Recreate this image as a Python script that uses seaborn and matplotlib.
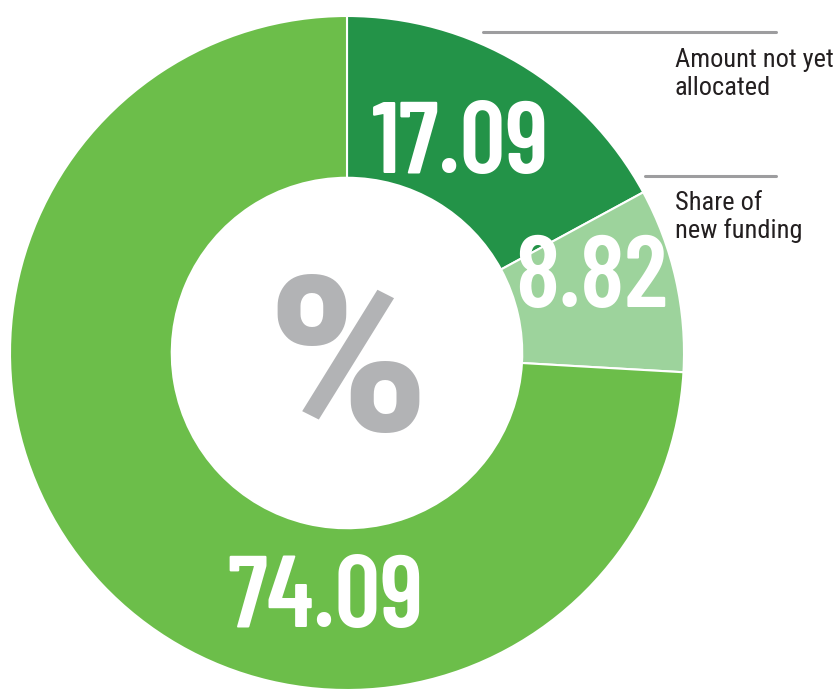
import numpy as np
import pandas as pd
import matplotlib
matplotlib.use('Agg')
import matplotlib.pyplot as plt
import seaborn as sns
from matplotlib import font_manager

sns.set_style("white")

installed = {f.name for f in font_manager.fontManager.ttflist}


def pick(*cands):
    for c in cands:
        if c in installed:
            return c
    return 'DejaVu Sans'


num_font = pick('Barlow Condensed', 'Roboto Condensed', 'Oswald', 'Fira Sans Condensed')
label_font = pick('Roboto Condensed', 'Asap Condensed', 'PT Sans Narrow', 'Fira Sans Condensed')
pct_font = pick('Roboto', 'Open Sans', 'Lato')
plt.rcParams['font.family'] = [label_font, 'DejaVu Sans']

# data
categories = ['Amount not yet allocated', 'Share of new funding', 'Other']
values = [17.09, 8.82, 74.09]
value_labels = ['17.09', '8.82', '74.09']
side_labels = [['Amount not yet', 'allocated'], ['Share of', 'new funding']]
colors = ['#239348', '#9dd39c', '#6cbe4a']

df = pd.DataFrame({'category': categories, 'value': values})

fig = plt.figure(figsize=(8.4, 6.95), dpi=100)
# pie centre at pixel (347, 353), radius 337
cx, cy, r = 347, 353, 337
W, H = 840, 695
ax = fig.add_axes([(cx - r) / W, (H - cy - r) / H, 2 * r / W, 2 * r / H])

wedges, _ = ax.pie(df['value'], colors=colors, startangle=90, counterclock=False,
                   radius=1, wedgeprops=dict(width=0.48, edgecolor='white', linewidth=1.5))
ax.set_xlim(-1, 1)
ax.set_ylim(-1, 1)
ax.set_aspect('auto')
ax.axis('off')


def px(x, y):
    return (x - cx) / r, (cy - y) / r


# value labels inside the ring (centre x, baseline y in pixels)
label_pos = [(461, 173), (591, 307), (325, 627)]
for txt, (x, y) in zip(value_labels, label_pos):
    ax.text(*px(x, y), txt, ha='center', va='baseline', fontsize=73,
            fontweight='semibold', color='white', family=num_font)

ax.text(*px(348, 431), '%', ha='center', va='baseline', fontsize=156,
        fontweight='heavy', color='#b2b3b5', family=pct_font)

# leader lines and side labels
lines = [(483, 776, 32), (645, 776, 176)]
text_pos = [(675, 67), (675, 210)]
for (x0, x1, y), (tx, ty), lab in zip(lines, text_pos, side_labels):
    a = px(x0, y)
    b = px(x1, y)
    ax.plot([a[0], b[0]], [a[1], b[1]], color='#9d9d9f', lw=2.2, clip_on=False)
    for i, line in enumerate(lab):
        ax.text(*px(tx, ty + 28 * i), line, ha='left', va='baseline', fontsize=19,
                color='#231f20', clip_on=False)

fig.savefig('out.png', dpi=100)
